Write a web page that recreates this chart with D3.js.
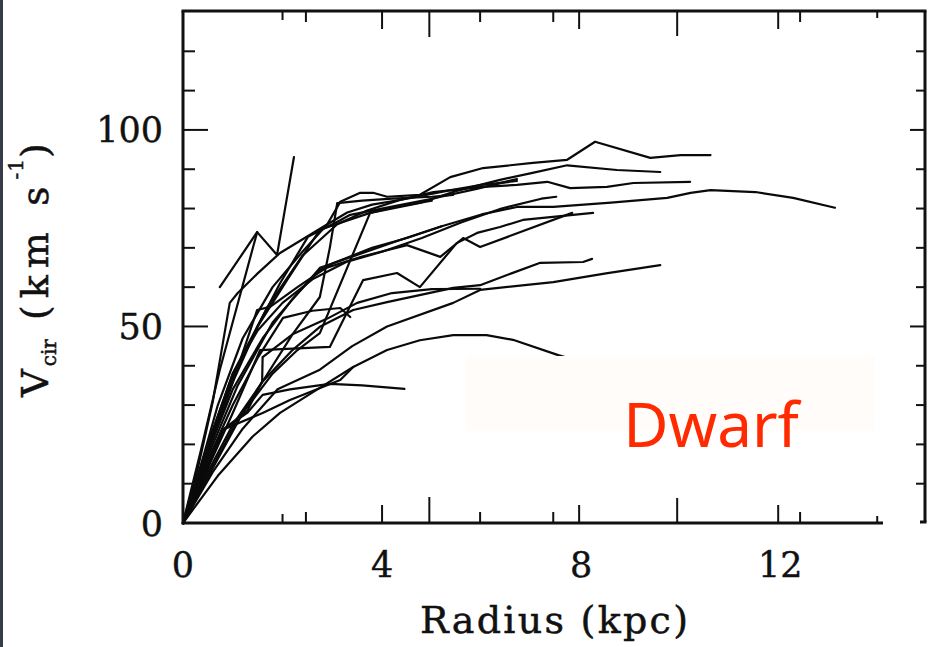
<!DOCTYPE html>
<html><head><meta charset="utf-8">
<script src="https://cdn.jsdelivr.net/npm/d3@7"></script>
<style>html,body{margin:0;padding:0;background:#fff;}svg{display:block;}</style>
</head><body>
<svg id="chart" width="929" height="647"></svg>
<script>
// ---- data ----
const xTickLabels = [0, 4, 8, 12];
const yTickLabels = [0, 50, 100];
const xTickMarks = [2.0, 2.47, 4.0, 4.95, 5.97, 7.44, 7.96, 9.93, 11.96, 12.4, 13.95];
const yTickMarks = [10, 20, 30, 40, 50, 60, 70, 80, 90, 100, 110, 120];
const xLabel = "Radius (kpc)";
const annotation = "Dwarf";

const rc01 = [[0,0],[0.3,12],[0.7,30],[1.2,47],[1.8,60],[2.4,69],[2.9,76],[3.16,81.7],[3.56,84],[3.82,84],[4.1,83],[4.76,83.5],[5.37,88],[6.03,90.3],[7.03,91.6],[7.72,92.4],[8.28,97],[9.39,92.9],[10.0,93.6],[10.6,93.6]];
const rc02 = [[0,0],[0.4,15],[0.9,33],[1.5,50],[2.1,62],[2.75,74.6],[3.76,78.9],[4.76,81.4],[5.5,84.5],[6.37,87.3],[7.0,89],[7.72,91],[8.72,89.8],[9.59,89.3]];
const rc03 = [[0,0],[0.5,20],[1.0,38],[1.7,55],[2.4,68],[3.1,76],[3.7,79.5],[4.36,82.2],[5.03,84.2],[6.03,85.5],[6.71,86],[7.32,86.8],[7.78,85.2],[8.52,85.5],[9.05,86.5],[10.19,86.8]];
const rc04 = [[0,0],[0.5,17],[1.1,35],[1.8,51],[2.75,64.9],[4.36,72],[5.2,75.5],[6.0,78.5],[6.71,80.4],[7.44,80.4],[8.6,81.5],[9.73,82.7],[10.2,84],[10.6,84.7],[11.5,84.2],[12.26,82.7],[13.1,80.2]];
const rc05 = [[0,0],[0.5,14],[1.0,28],[1.55,44],[2.95,44.8],[3.62,61.8],[4.3,63.6],[4.76,60],[5.5,71.2],[5.91,73.8],[6.37,75.3],[6.83,77.1],[8.24,78.9]];
const rc06 = [[0,0],[0.5,18],[1.0,34],[1.6,47],[2.2,57],[2.75,64.4],[3.6,67.8],[4.5,70.7],[5.17,67.7],[5.63,72.5],[5.97,70.2],[7.82,78.9]];
const rc07 = [[0,0],[0.5,20],[1.0,37],[1.5,50],[1.95,61],[2.51,72.8],[3.16,77],[3.36,78.4],[4.2,80.5],[5.0,82.5],[5.9,85],[6.71,87.5]];
const rc08 = [[0,0],[0.5,13],[1.0,25],[1.6,36],[2.2,44],[2.75,49.9],[3.42,54.2],[4.1,56.2],[5.43,59.8],[5.97,60.5],[6.6,63.5],[7.18,66.2],[8.04,66.4],[8.22,67.2]];
const rc09 = [[0,0],[0.6,13],[1.2,24],[1.9,34],[2.75,39],[3.4,45],[4.1,50],[5.43,56],[5.97,59.3],[7.44,61.3],[8.5,63.5],[9.59,65.6]];
const rc10 = [[0,0],[0.7,12],[1.4,22],[1.95,28],[2.7,34],[3.42,39.7],[4.1,44],[4.76,46.5],[5.43,47.8],[6.1,47.8],[6.63,46.6],[7.54,42.7],[8.0,41]];
const rc11 = [[0,0],[0.4,11],[0.8,23.7],[1.29,28],[1.6,32.6],[2.15,34],[2.95,35.4],[3.6,35],[4.45,34.1]];
const rc12 = [[0,0],[0.4,12],[0.8,23.7],[1.29,28.5],[1.59,36],[1.6,42.2],[2.2,48],[2.9,52],[3.5,56],[4.2,58.5],[5.0,59.5],[5.97,59.6]];
const rc13 = [[0,0],[0.5,16],[1.0,30],[1.5,42],[2.01,52.2],[2.6,54],[3.16,54.7],[3.36,52.4]];
const rc14 = [[0,0],[0.3,14],[0.6,31],[0.94,56],[1.1,58.5],[1.5,63.5],[1.95,68.7],[2.81,75.3],[3.3,79],[3.8,81],[4.5,82.5],[5.3,84.5],[6.0,86],[6.71,87]];
const rc15 = [[0,0],[0.35,18],[0.74,39],[1.49,74]];
const rc16 = [[0.74,60],[1.49,74],[1.89,68.2],[2.23,93.1]];
const rc17 = [[0,0],[0.4,15],[0.9,32],[1.49,54.2],[1.75,55],[2.3,60],[3.0,66],[3.8,70],[4.5,72.5],[5.2,75.5]];
const rc18 = [[0,0],[0.5,12],[1.0,24],[1.6,36],[2.2,48],[2.75,57.5],[2.95,70],[3.1,81.4],[3.6,82],[4.2,82.5],[5.0,83],[5.43,83.5]];
const rc19 = [[0,0],[0.6,14],[1.2,28],[1.8,38],[2.3,44],[2.75,48.3],[3.76,78.9],[4.3,80.5],[5.0,82]];
const rc20 = [[0,0],[0.5,20],[1.0,38],[1.5,49],[2.0,56],[2.6,62],[3.3,66.5],[4.0,69],[4.8,72.5],[5.6,76.5],[6.4,80],[7.2,82.5],[7.5,83]];
const rc21 = [[0,0],[0.8,23.7],[1.6,28],[2.15,31.3],[3.16,36.4],[3.42,39.7]];
const curves = [rc01,rc02,rc03,rc04,rc05,rc06,rc07,rc08,rc09,rc10,rc11,rc12,rc13,rc14,rc15,rc16,rc17,rc18,rc19,rc20,rc21];

// ---- styles / layout ----
const L = 183, R = 925, T = 11, B = 523, AXIS_END = 883;
const xTickLen = [9, 11, 18, 26, 11, 11, 18, 25, 18, 11, 7];
const serif = "'DejaVu Serif', 'Liberation Serif', serif";

const svg = d3.select("#chart");
const x = d3.scaleLinear().domain([0, 14.91]).range([L, R]);
const y = d3.scaleLinear().domain([0, 130]).range([B, T + 1]);

// left dark strip
svg.append("rect").attr("x", 0).attr("y", 0).attr("width", 3).attr("height", 647).attr("fill", "#373c4b");

// curves
const line = d3.line().x(d => x(d[0])).y(d => y(d[1]));
svg.append("g").selectAll("path").data(curves).join("path")
  .attr("d", line).attr("fill", "none").attr("stroke", "#0a0a0a")
  .attr("stroke-width", 2.2).attr("stroke-linejoin", "round").attr("stroke-linecap", "round");

// annotation background box and text
svg.append("rect").attr("x", 466).attr("y", 356).attr("width", 409).attr("height", 75).attr("fill", "#fffcfa");
svg.append("text").attr("x", 711).attr("y", 447).attr("text-anchor", "middle")
  .style("font-family", "'Comic Sans MS','Noto Sans',sans-serif").style("font-size", "62px")
  .attr("fill", "#ff2a00").text(annotation);

// frame
const frame = svg.append("g").attr("stroke", "#111").attr("stroke-width", 3).attr("fill", "none");
frame.append("line").attr("x1", L).attr("x2", L).attr("y1", T).attr("y2", B + 1.5);
frame.append("line").attr("x1", L - 1.5).attr("x2", R + 1.5).attr("y1", T).attr("y2", T);
frame.append("line").attr("x1", R).attr("x2", R).attr("y1", T).attr("y2", B - 1);
frame.append("line").attr("x1", R - 5).attr("x2", R + 1.5).attr("y1", B - 1).attr("y2", B - 1);
frame.append("line").attr("x1", L).attr("x2", AXIS_END).attr("y1", B).attr("y2", B);

// ticks
const tk = svg.append("g").attr("stroke", "#111").attr("stroke-width", 2);
xTickMarks.forEach((v, i) => {
  tk.append("line").attr("x1", x(v)).attr("x2", x(v)).attr("y1", B).attr("y2", B - xTickLen[i]);
  tk.append("line").attr("x1", x(v)).attr("x2", x(v)).attr("y1", T).attr("y2", T + xTickLen[i]);
});
yTickMarks.forEach(v => {
  const major = yTickLabels.includes(v);
  tk.append("line").attr("x1", L).attr("x2", L + (major ? 25 : 12)).attr("y1", y(v)).attr("y2", y(v));
  tk.append("line").attr("x1", R).attr("x2", R - (major ? 15 : 9)).attr("y1", y(v)).attr("y2", y(v));
});

// tick labels
svg.append("g").selectAll("text").data(yTickLabels).join("text")
  .attr("x", 163).attr("y", d => y(d) + 12.5).attr("text-anchor", "end")
  .style("font-family", serif).style("font-size", "35px").attr("fill", "#111")
  .attr("stroke", "#111").attr("stroke-width", 0.4).text(d => d);
svg.append("g").selectAll("text").data(xTickLabels).join("text")
  .attr("x", d => x(d)).attr("y", 577).attr("text-anchor", "middle")
  .style("font-family", serif).style("font-size", "35px").attr("fill", "#111")
  .attr("stroke", "#111").attr("stroke-width", 0.4).text(d => d);

// axis titles
svg.append("text").attr("x", 554).attr("y", 633).attr("text-anchor", "middle")
  .attr("textLength", 268).attr("lengthAdjust", "spacing")
  .style("font-family", serif).style("font-size", "38px").attr("fill", "#111")
  .attr("stroke", "#111").attr("stroke-width", 0.5).text(xLabel);

const yl = svg.append("text").attr("transform", "translate(48,270) rotate(-90)")
  .attr("text-anchor", "middle").style("font-family", serif).style("font-size", "38px")
  .attr("fill", "#111").attr("stroke", "#111").attr("stroke-width", 0.5);
yl.append("tspan").style("letter-spacing", "3px").text("V");
yl.append("tspan").style("font-size", "20px").style("letter-spacing", "0px").attr("dy", 8).text("cir");
yl.append("tspan").style("letter-spacing", "7px").attr("dy", -8).text(" (km s");
yl.append("tspan").style("font-size", "20px").style("letter-spacing", "1px").attr("dy", -25).text("-1");
yl.append("tspan").attr("dy", 25).text(")");
</script>
</body></html>
